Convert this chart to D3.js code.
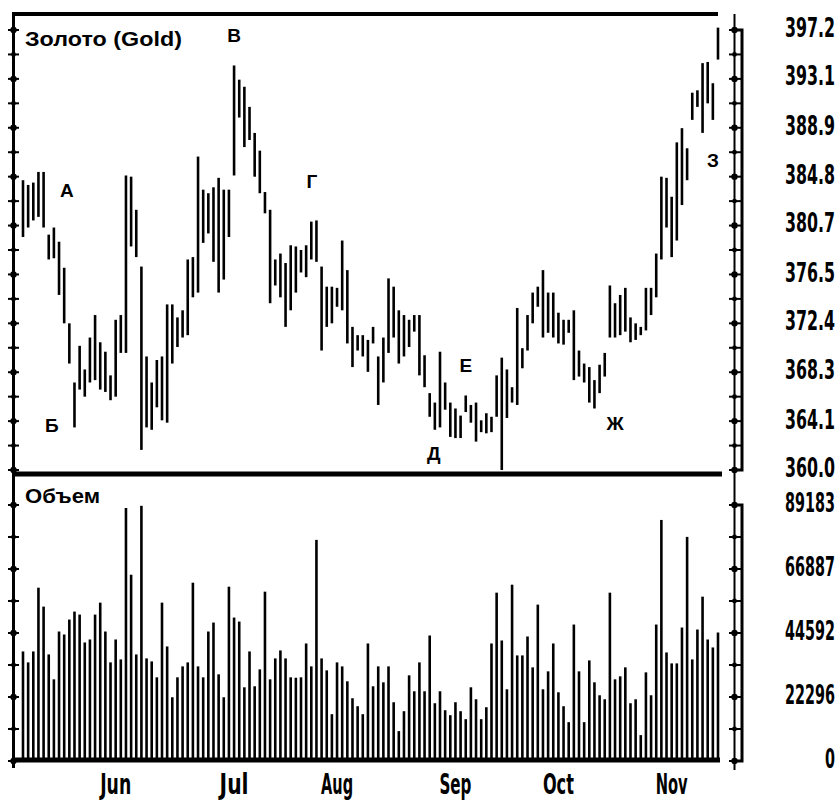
<!DOCTYPE html>
<html><head><meta charset="utf-8">
<script src="https://cdn.jsdelivr.net/npm/d3@7"></script>
<style>body{margin:0;background:#fff}svg{display:block}</style>
</head><body><svg id="c" width="840" height="802"></svg>
<script>
// Daily high / low of gold (price panel)
const highs = [384.5,384.1,384.3,385.2,385.2,379.9,380.5,379.3,377.1,372.4,367.4,370.5,368.5,371.2,373.1,370.8,370.0,368.0,372.7,373.1,
384.9,384.8,382.0,377.2,369.6,367.4,369.3,369.6,374.0,374.0,372.9,373.5,377.8,378.0,386.5,383.7,383.4,383.9,384.7,383.7,
383.7,394.2,393.0,392.4,390.7,388.5,387.0,383.5,382.0,377.8,378.3,377.5,379.0,378.9,378.6,379.0,381.0,381.1,377.2,375.5,
375.5,375.4,379.4,376.9,372.1,371.4,371.4,371.0,372.1,369.6,371.2,376.2,375.5,373.5,373.1,372.7,373.1,373.1,369.7,366.5,
365.7,370.0,367.4,365.7,365.2,364.6,366.3,365.5,365.7,364.2,364.8,364.5,368.0,369.5,368.5,367.0,373.7,370.3,373.1,375.0,
375.5,376.9,375.0,375.0,373.3,372.7,372.7,373.5,370.1,369.0,368.7,367.6,368.9,369.9,375.6,374.1,374.8,375.4,372.9,372.4,
372.1,375.4,375.4,378.3,384.8,384.7,383.1,387.7,388.9,387.2,391.9,392.1,394.4,394.5,392.7,397.4];
const lows = [379.7,380.5,381.1,381.4,380.5,377.8,377.9,374.8,372.4,369.0,363.6,366.8,366.2,367.4,367.6,366.8,366.6,365.9,366.2,369.9,
369.9,378.9,378.0,361.7,363.6,363.4,365.3,364.2,364.0,369.0,370.4,371.2,371.4,374.6,375.0,379.2,380.0,377.6,375.0,376.1,
379.7,384.9,389.8,387.3,387.9,384.8,383.4,381.7,374.1,375.6,374.6,372.1,373.5,375.0,376.7,376.3,377.8,377.6,370.1,372.1,
372.4,373.8,373.5,370.7,368.7,370.1,369.6,368.3,370.7,365.5,367.4,369.9,371.2,369.0,369.6,370.4,371.7,368.0,367.0,364.5,
363.4,363.6,365.1,362.8,362.7,362.7,364.9,364.0,362.4,363.2,363.1,363.2,364.5,360.0,364.4,365.7,365.5,368.6,370.1,372.4,
373.8,371.2,371.6,371.2,370.7,370.6,371.6,367.6,367.9,367.4,365.7,365.2,366.5,367.9,371.2,371.2,371.4,371.7,370.8,371.0,
371.4,371.8,373.1,374.6,377.8,380.5,378.0,379.4,382.4,384.5,389.6,390.7,388.5,391.0,389.6,394.7];
// Daily volume (volume panel)
const volumes = [38170,34353,38170,60378,53785,37129,28454,45110,44069,49274,52050,51009,41293,42334,51009,55173,45110,34353,42334,35394,
88138,64889,37129,88900,35741,34700,29148,55173,39905,22208,29148,32965,34353,62113,32965,29148,45110,48233,30189,22208,
60725,49968,48580,25678,38170,26025,31924,58990,28454,35741,38517,35741,29148,29000,29148,40946,32965,77034,35741,31577,
16309,34353,32965,27760,21861,19085,16309,40946,26025,32965,27413,32965,20473,10410,17350,29842,24290,34353,24290,43722,
20126,24290,17697,15962,20473,17350,14574,25678,21514,14574,18738,40946,58643,41987,24984,61419,36782,36782,43375,32618,
54479,24984,31230,40946,23943,19085,13533,47539,31230,13533,35047,27413,22902,21514,58643,28454,29495,32618,20126,21500,
9022,30883,22902,47539,83974,37823,34006,34006,46498,78075,35394,45804,57255,42334,39558,44763];
const priceTicks = [360.0,364.1,368.3,372.4,376.5,380.7,384.8,388.9,393.1,397.2];
const volumeTicks = [0,22296,44592,66887,89183];
const monthLabels = ["Jun","Jul","Aug","Sep","Oct","Nov"];
const monthIndex = [18,41,61,84,104,126];
const noteLetters = ["А","Б","В","Г","Д","Е","Ж","З"];
const noteIndex = [8.5,5.6,41,56.1,79.8,86,115,134];
const notePrice = [383.1,363.2,396.2,383.8,360.85,368.3,363.4,385.6];

const svg = d3.select("#c");
const n = highs.length;
const x = d3.scaleLinear().domain([0, n - 1]).range([23, 718]);
const yP = d3.scaleLinear().domain([360, 397.2]).range([470, 30]);
const yV = d3.scaleLinear().domain([0, 89183]).range([761, 505]);
const ink = "#000";
const labelFont = "'DejaVu Sans',sans-serif";
const sansFont = "'Liberation Sans',Arial,sans-serif";

// squeeze a text horizontally to a target width around its anchor
function squeeze(sel, ax, ay, width, anchor) {
  sel.each(function(d, i) {
    const t = d3.select(this);
    const w = this.getComputedTextLength();
    const wt = typeof width === "function" ? width(d, i) : width;
    const k = w > 0 ? wt / w : 1;
    const xx = typeof ax === "function" ? ax(d, i) : ax;
    const yy = typeof ay === "function" ? ay(d, i) : ay;
    t.attr("x", 0).attr("y", 0).attr("text-anchor", anchor)
     .attr("transform", `translate(${xx},${yy}) scale(${k},1)`);
  });
}

// frame lines
svg.append("line").attr("x1",15).attr("x2",718).attr("y1",14).attr("y2",14).attr("stroke",ink).attr("stroke-width",4);
svg.append("line").attr("x1",12).attr("x2",722).attr("y1",474).attr("y2",474).attr("stroke",ink).attr("stroke-width",5);
svg.append("line").attr("x1",12).attr("x2",720).attr("y1",760).attr("y2",760).attr("stroke",ink).attr("stroke-width",5);

// left axis
svg.append("line").attr("x1",13.5).attr("x2",13.5).attr("y1",12).attr("y2",768).attr("stroke",ink).attr("stroke-width",3);
// right axis
svg.append("line").attr("x1",734.5).attr("x2",734.5).attr("y1",14).attr("y2",770).attr("stroke",ink).attr("stroke-width",2);
function bracket(y1, y2) {
  svg.append("path").attr("d",`M734,${y1}H742V${y2}H734`).attr("fill","none").attr("stroke",ink).attr("stroke-width",3);
}
bracket(yP(397.2), yP(360));
bracket(yV(89183), yV(0));

const pStep = (397.2 - 360) / 18;
const pMinor = d3.range(19).map(k => 360 + k * pStep);
const vStep = 89183 / 8;
const vMinor = d3.range(9).map(k => k * vStep);
function ticks(scale, vals, cx, x1, x2) {
  const g = svg.append("g");
  vals.forEach((v, k) => {
    const yy = scale(v);
    g.append("line").attr("x1",x1).attr("x2",x2).attr("y1",yy).attr("y2",yy).attr("stroke",ink).attr("stroke-width",2);
    g.append("circle").attr("cx",cx).attr("cy",yy).attr("r", k % 2 === 0 ? 3.2 : 2.4).attr("fill",ink);
  });
}
ticks(yP, pMinor, 13.5, 8, 19);
ticks(yV, vMinor, 13.5, 8, 19);
ticks(yP, pMinor, 734.5, 729, 741);
ticks(yV, vMinor, 734.5, 729, 741);

// right tick labels
function labels(scale, vals, fmt) {
  const s = svg.append("g").selectAll("text").data(vals).join("text")
    .attr("font-family", labelFont).attr("font-weight","bold").attr("font-size",27)
    .attr("fill", ink)
    .text(fmt);
  squeeze(s, 835, d => scale(d) + 7, d => fmt(d).length === 1 ? 10 : 50, "end");
}
labels(yP, priceTicks, d => d.toFixed(1));
labels(yV, volumeTicks, d => String(d));

// month labels
const monthWidth = [31, 29, 32, 32, 31, 32];
const ms = svg.append("g").selectAll("text").data(monthLabels).join("text")
  .attr("font-family", labelFont).attr("font-weight","bold").attr("font-size",29)
  .attr("fill", ink).text(d => d);
squeeze(ms, (d, i) => x(monthIndex[i]), 794, (d, i) => monthWidth[i], "middle");

// price bars
svg.append("g").selectAll("line").data(d3.range(n)).join("line")
  .attr("x1", i => x(i)).attr("x2", i => x(i))
  .attr("y1", i => yP(highs[i])).attr("y2", i => yP(lows[i]))
  .attr("stroke", ink).attr("stroke-width", 2.6);

// volume bars
svg.append("g").selectAll("line").data(d3.range(n)).join("line")
  .attr("x1", i => x(i)).attr("x2", i => x(i))
  .attr("y1", i => yV(volumes[i])).attr("y2", yV(0))
  .attr("stroke", ink).attr("stroke-width", 2.6);

// panel titles
const t1 = svg.append("text").attr("font-family", sansFont)
  .attr("font-weight","bold").attr("font-size",21).attr("fill",ink).text("Золото (Gold)");
squeeze(t1, 25, 46, 157, "start");
const t2 = svg.append("text").attr("font-family", sansFont)
  .attr("font-weight","bold").attr("font-size",21).attr("fill",ink).text("Объем");
squeeze(t2, 25, 503, 75, "start");

// wave letters
svg.append("g").selectAll("text").data(noteLetters).join("text")
  .attr("x", (d, i) => x(noteIndex[i])).attr("y", (d, i) => yP(notePrice[i]))
  .attr("text-anchor","middle")
  .attr("font-family", sansFont).attr("font-weight","bold").attr("font-size",19)
  .attr("fill", ink).text(d => d);
</script></body></html>
